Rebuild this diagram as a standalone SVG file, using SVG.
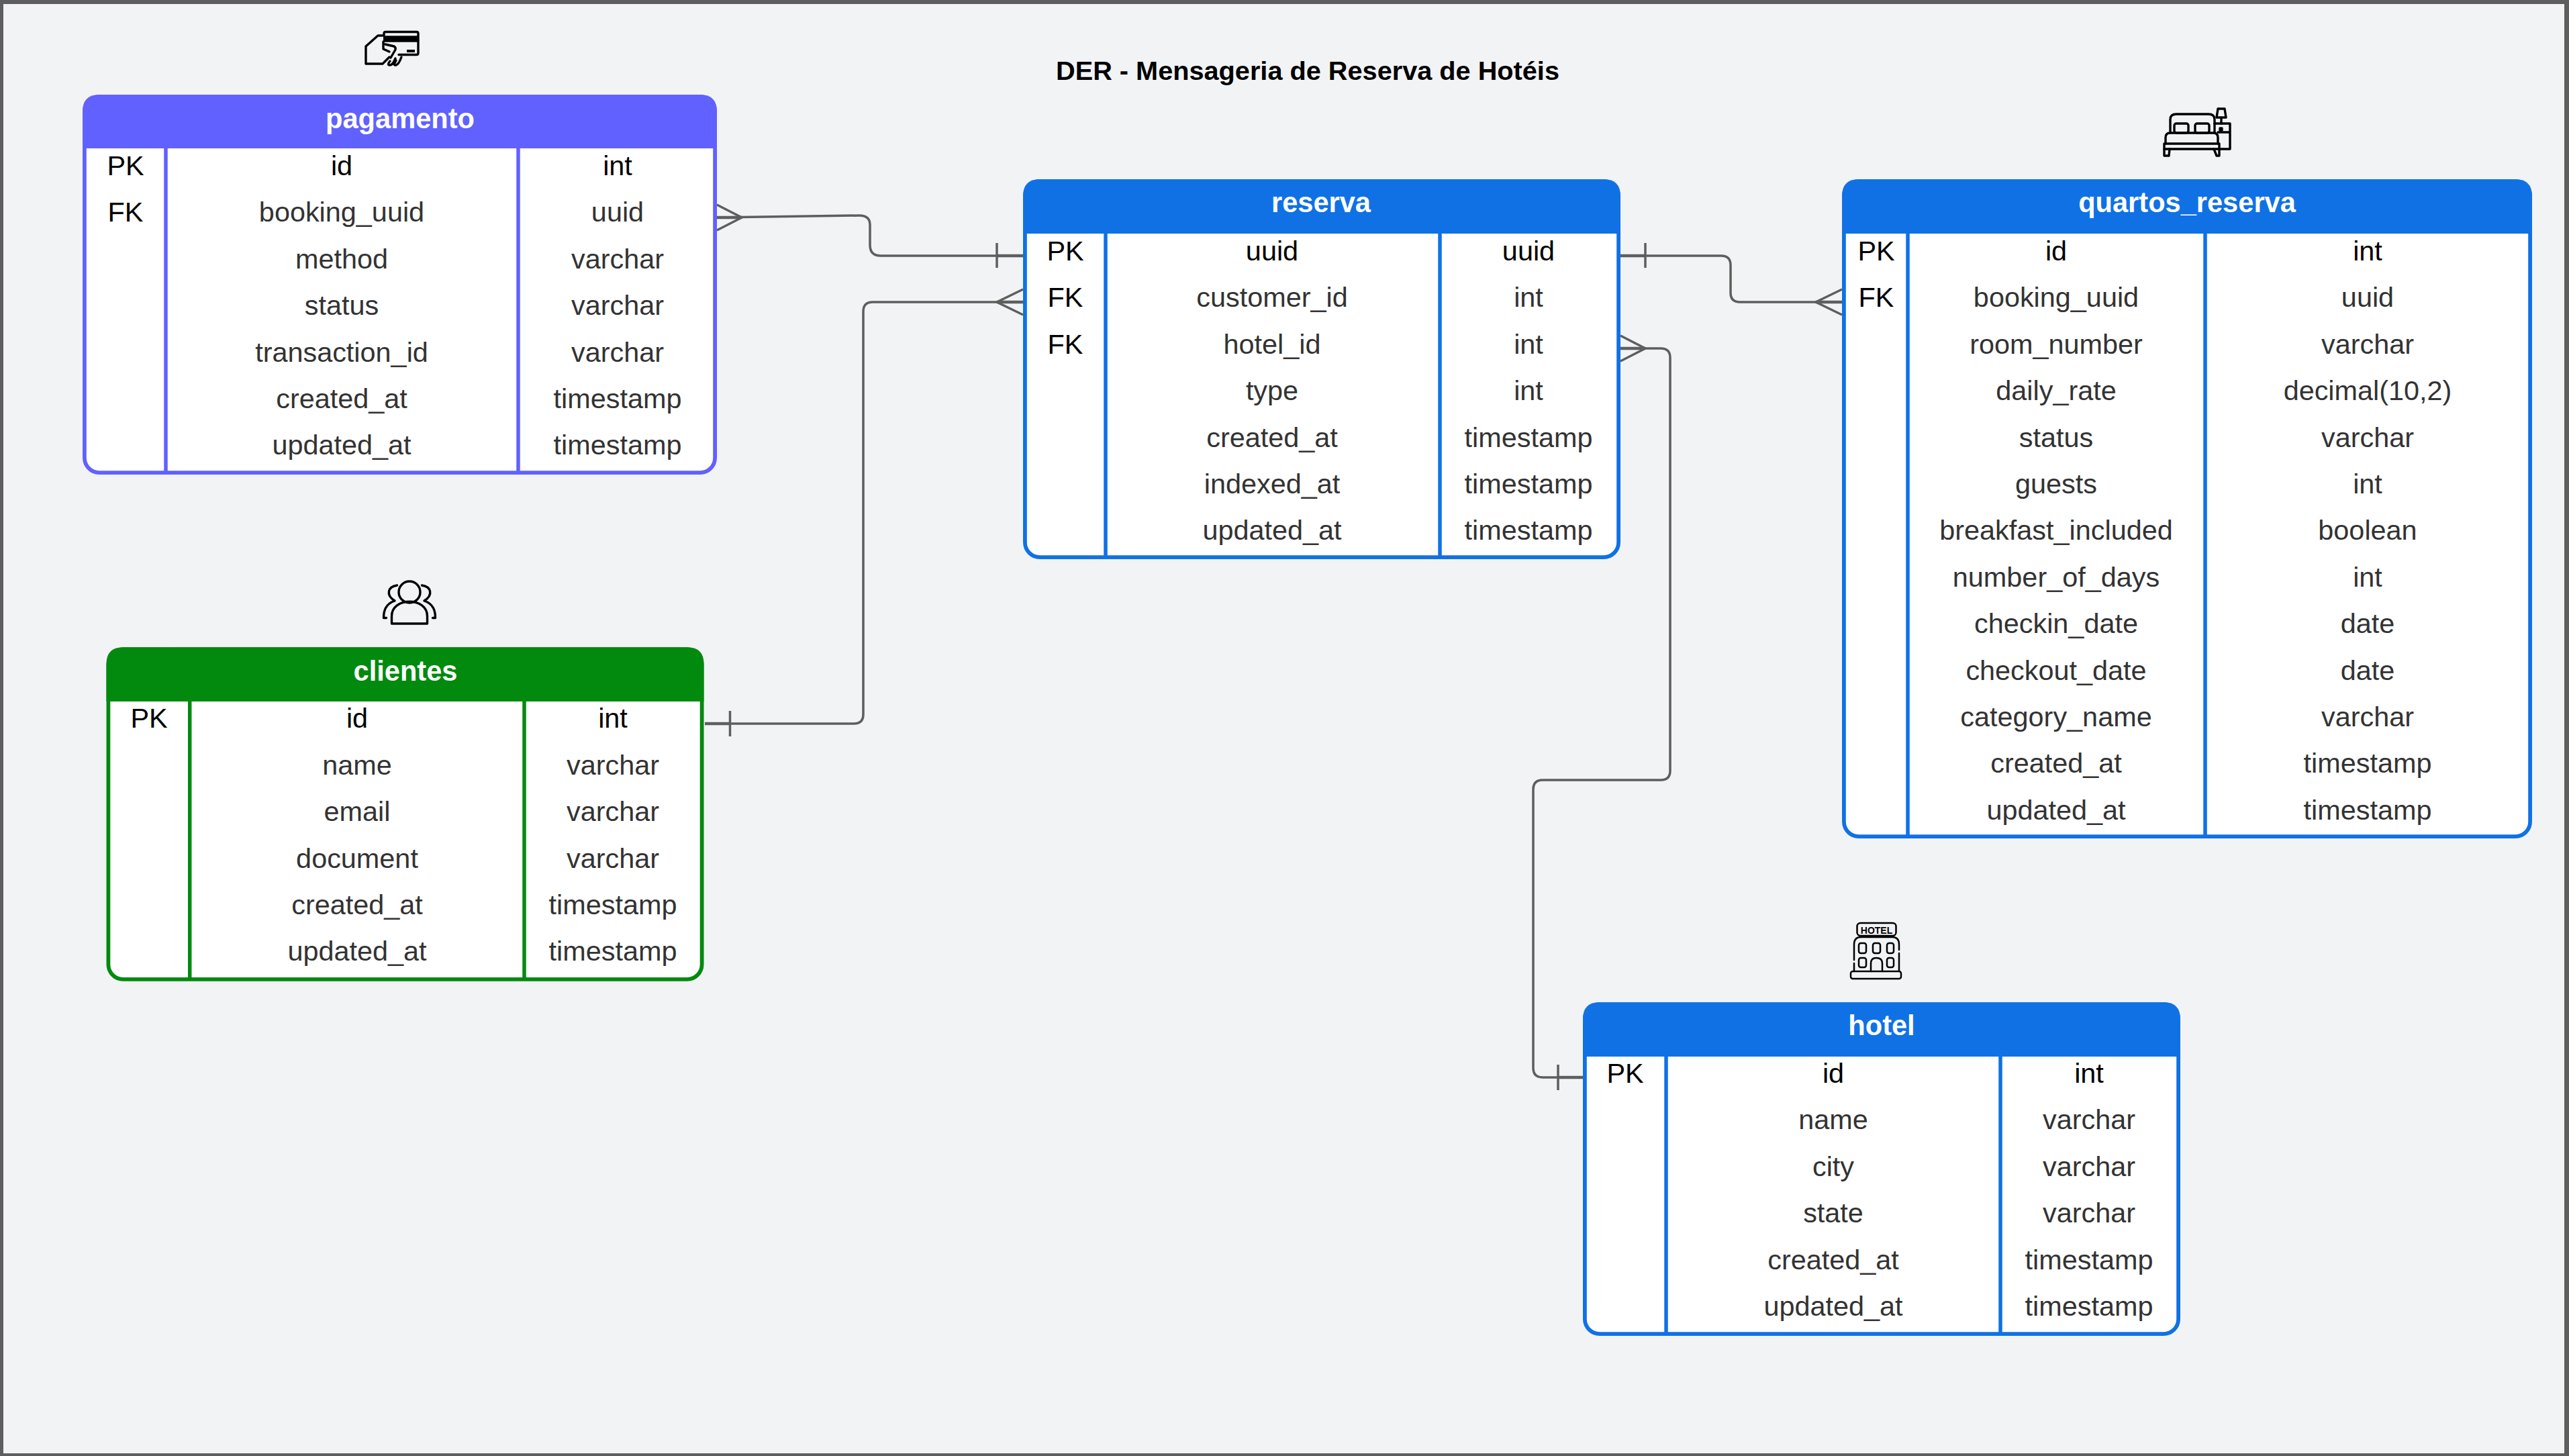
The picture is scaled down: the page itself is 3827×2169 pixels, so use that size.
<svg xmlns="http://www.w3.org/2000/svg" width="3827" height="2169" viewBox="0 0 3827 2169">
<style>
text{font-family:"Liberation Sans",Arial,sans-serif;font-size:41.4px;text-anchor:middle;fill:#333}
.k{fill:#000}
.h{font-weight:700;fill:#fff;font-size:41.6px}
.title{font-weight:700;fill:#000;font-size:39.7px}
.box{stroke-width:5.8}
.div{stroke-width:5.5;fill:none}
.v{fill:#6161ff}
.b{fill:#1071e5}
.g{fill:#028a0f}
.vs{stroke:#6161ff;fill:#fff}
.bs{stroke:#1071e5;fill:#fff}
.gs{stroke:#028a0f;fill:#fff}
.vl{stroke:#6161ff}
.bl{stroke:#1071e5}
.gl{stroke:#028a0f}
.c{fill:none;stroke:#5e5e5e;stroke-width:3.5;stroke-linejoin:round}
.e{fill:none;stroke:#5e5e5e;stroke-width:3.5}
.s{fill:none;stroke:#5e5e5e;stroke-width:4.5}
.i{fill:none;stroke:#000;stroke-width:3.4;stroke-linecap:round;stroke-linejoin:round}
.t{stroke-width:2.5}
.hl{font-size:14px;font-weight:700;fill:#000;stroke:none}
</style>
<rect width="3827" height="2169" fill="#5e5e5e"/>
<rect x="5" y="6" width="3815" height="2159" fill="#f2f3f5"/>
<text class="title" x="1948" y="119">DER - Mensageria de Reserva de Hotéis</text>

<g id="connectors">
<path class="c" d="M1068 324L1280 321Q1296 321 1296 335V365Q1296 381 1312 381H1485"/>
<path class="s" d="M1485 381H1524"/>
<path class="e" d="M1485 362V399"/>
<path class="e" d="M1068 305L1105 324L1068 343"/>
<path class="s" d="M1068 324H1105"/>
<path class="c" d="M1050 1078H1272Q1286 1078 1286 1064V464Q1286 450 1300 450H1485"/>
<path class="s" d="M1050 1078H1087"/>
<path class="e" d="M1087.500 1059V1097"/>
<path class="e" d="M1524 431L1485 450L1524 469"/>
<path class="s" d="M1485 450H1524"/>
<path class="c" d="M2451 381H2564Q2578 381 2578 395V436Q2578 450 2592 450H2705"/>
<path class="s" d="M2414 381H2451"/>
<path class="e" d="M2451 362V399"/>
<path class="e" d="M2744 431L2705 450L2744 469"/>
<path class="s" d="M2705 450H2744"/>
<path class="c" d="M2451 519H2474Q2488 519 2488 533V1148Q2488 1162 2474 1162H2298Q2284 1162 2284 1176V1591Q2284 1605 2298 1605H2321"/>
<path class="e" d="M2414 500L2451 519L2414 538"/>
<path class="s" d="M2414 519H2451"/>
<path class="e" d="M2321 1586V1624"/>
<path class="s" d="M2321 1605H2358"/>
</g>

<g id="pagamento">
<rect class="box vs" x="125.900" y="143.900" width="939.200" height="560.200" rx="22"/>
<path class="v" d="M123 221V166Q123 141 148 141H1043Q1068 141 1068 166V221Z"/>
<path class="div vl" d="M247 221V702M772 221V702"/>
<text class="h" x="596" y="190.500">pagamento</text>
<text class="k" x="187" y="261">PK</text><text class="k" x="509" y="261">id</text><text class="k" x="920" y="261">int</text>
<text class="k" x="187" y="330.400">FK</text><text x="509" y="330.400">booking_uuid</text><text x="920" y="330.400">uuid</text>
<text x="509" y="399.800">method</text><text x="920" y="399.800">varchar</text>
<text x="509" y="469.200">status</text><text x="920" y="469.200">varchar</text>
<text x="509" y="538.600">transaction_id</text><text x="920" y="538.600">varchar</text>
<text x="509" y="608">created_at</text><text x="920" y="608">timestamp</text>
<text x="509" y="677.400">updated_at</text><text x="920" y="677.400">timestamp</text>
</g>

<g id="reserva">
<rect class="box bs" x="1526.900" y="269.900" width="884.200" height="560.200" rx="22"/>
<path class="b" d="M1524 348V292Q1524 267 1549 267H2389Q2414 267 2414 292V348Z"/>
<path class="div bl" d="M1647 348V829M2145 348V829"/>
<text class="h" x="1968" y="316">reserva</text>
<text class="k" x="1587" y="388">PK</text><text class="k" x="1895" y="388">uuid</text><text class="k" x="2277" y="388">uuid</text>
<text class="k" x="1587" y="457.400">FK</text><text x="1895" y="457.400">customer_id</text><text x="2277" y="457.400">int</text>
<text class="k" x="1587" y="526.800">FK</text><text x="1895" y="526.800">hotel_id</text><text x="2277" y="526.800">int</text>
<text x="1895" y="596.200">type</text><text x="2277" y="596.200">int</text>
<text x="1895" y="665.600">created_at</text><text x="2277" y="665.600">timestamp</text>
<text x="1895" y="735">indexed_at</text><text x="2277" y="735">timestamp</text>
<text x="1895" y="804.400">updated_at</text><text x="2277" y="804.400">timestamp</text>
</g>

<g id="quartos_reserva">
<rect class="box bs" x="2746.900" y="269.900" width="1022.200" height="976.200" rx="22"/>
<path class="b" d="M2744 348V292Q2744 267 2769 267H3747Q3772 267 3772 292V348Z"/>
<path class="div bl" d="M2842 348V1245M3285 348V1245"/>
<text class="h" x="3258" y="316">quartos_reserva</text>
<text class="k" x="2795" y="388">PK</text><text class="k" x="3063" y="388">id</text><text class="k" x="3527" y="388">int</text>
<text class="k" x="2795" y="457.400">FK</text><text x="3063" y="457.400">booking_uuid</text><text x="3527" y="457.400">uuid</text>
<text x="3063" y="526.800">room_number</text><text x="3527" y="526.800">varchar</text>
<text x="3063" y="596.200">daily_rate</text><text x="3527" y="596.200">decimal(10,2)</text>
<text x="3063" y="665.600">status</text><text x="3527" y="665.600">varchar</text>
<text x="3063" y="735">guests</text><text x="3527" y="735">int</text>
<text x="3063" y="804.400">breakfast_included</text><text x="3527" y="804.400">boolean</text>
<text x="3063" y="873.800">number_of_days</text><text x="3527" y="873.800">int</text>
<text x="3063" y="943.200">checkin_date</text><text x="3527" y="943.200">date</text>
<text x="3063" y="1012.600">checkout_date</text><text x="3527" y="1012.600">date</text>
<text x="3063" y="1082">category_name</text><text x="3527" y="1082">varchar</text>
<text x="3063" y="1151.400">created_at</text><text x="3527" y="1151.400">timestamp</text>
<text x="3063" y="1220.800">updated_at</text><text x="3527" y="1220.800">timestamp</text>
</g>

<g id="clientes">
<rect class="box gs" x="161.400" y="967.200" width="884.200" height="491.600" rx="22"/>
<path class="g" d="M158.500 1045V989Q158.500 964.300 183 964.300H1024Q1048.500 964.300 1048.500 989V1045Z"/>
<path class="div gl" d="M282.700 1045V1457M781 1045V1457"/>
<text class="h" x="604" y="1014">clientes</text>
<text class="k" x="222" y="1084.300">PK</text><text class="k" x="532" y="1084.300">id</text><text class="k" x="913" y="1084.300">int</text>
<text x="532" y="1153.700">name</text><text x="913" y="1153.700">varchar</text>
<text x="532" y="1223.100">email</text><text x="913" y="1223.100">varchar</text>
<text x="532" y="1292.500">document</text><text x="913" y="1292.500">varchar</text>
<text x="532" y="1361.900">created_at</text><text x="913" y="1361.900">timestamp</text>
<text x="532" y="1431.300">updated_at</text><text x="913" y="1431.300">timestamp</text>
</g>

<g id="hotel">
<rect class="box bs" x="2360.900" y="1495.900" width="884.200" height="491.200" rx="22"/>
<path class="b" d="M2358 1574V1518Q2358 1493 2383 1493H3223Q3248 1493 3248 1518V1574Z"/>
<path class="div bl" d="M2482 1574V1986M2980 1574V1986"/>
<text class="h" x="2803" y="1542">hotel</text>
<text class="k" x="2421" y="1613">PK</text><text class="k" x="2731" y="1613">id</text><text class="k" x="3112" y="1613">int</text>
<text x="2731" y="1682.400">name</text><text x="3112" y="1682.400">varchar</text>
<text x="2731" y="1751.800">city</text><text x="3112" y="1751.800">varchar</text>
<text x="2731" y="1821.200">state</text><text x="3112" y="1821.200">varchar</text>
<text x="2731" y="1890.600">created_at</text><text x="3112" y="1890.600">timestamp</text>
<text x="2731" y="1960">updated_at</text><text x="3112" y="1960">timestamp</text>
</g>

<g id="icon-card" class="i">
<path d="M572 53V50Q572 47.500 574.500 47.500H620.500Q623 47.500 623 50V79Q623 81.500 620.500 81.500H594"/>
<rect x="571" y="53.300" width="53" height="9.400" fill="#000" stroke="none"/>
<rect x="606" y="74" width="12" height="4" fill="#000" stroke="none"/>
<path d="M570 53H563L545 69V95H570L580 85"/>
<path d="M571 62V73L580 77M574 66L587 69Q590 71 589 74L582 86"/>
<path d="M581 91Q576 97 581 97Q585 97 589 87M590 90Q585 98 590 97Q594 96 598 85"/>
</g>
<g id="icon-bed" class="i">
<path d="M3233 198V178Q3233 170 3242 170H3290Q3299 170 3299 178V198"/>
<rect x="3239" y="184" width="21" height="14" rx="3"/>
<rect x="3270" y="184" width="21" height="14" rx="3"/>
<path d="M3226 214V205Q3226 198 3233 198H3297Q3304 198 3304 205V214"/>
<rect x="3224" y="214" width="82" height="8"/>
<path d="M3224 222V232H3231L3232 222M3298 222L3302 232H3306V222"/>
<path d="M3299 184H3322V222H3306M3304 197H3322"/>
<path d="M3309 184V175M3304 162H3314L3316 175H3302Z"/>
<rect x="3307" y="191" width="3" height="3" fill="#000"/>
</g>
<g id="icon-people" class="i">
<circle cx="610" cy="882" r="16"/>
<path d="M583.500 929V918C583.500 889 636.500 889 636.500 918V929Z"/>
<path d="M591.500 872C578 874 574 886 588 895C574 900 571.500 910 571.500 920.500H575.500"/>
<path d="M628.500 872C642 874 646 886 632 895C646 900 648.500 910 648.500 920.500H644.500"/>
</g>
<g id="icon-hotel" class="i t">
<rect x="2766.500" y="1375" width="58" height="19" rx="5"/>
<text class="hl" x="2795.500" y="1390.500">HOTEL</text>
<path d="M2762 1430V1407Q2762 1396 2772 1396H2819Q2829 1396 2829 1407V1415M2829 1420V1447M2762 1435V1447"/>
<rect x="2769" y="1405" width="11" height="15" rx="3"/>
<rect x="2790" y="1405" width="11" height="15" rx="3"/>
<rect x="2811" y="1405" width="10" height="15" rx="3"/>
<rect x="2769" y="1427" width="11" height="14" rx="3"/>
<rect x="2811" y="1427" width="10" height="14" rx="3"/>
<path d="M2787 1447V1435Q2787 1427 2795 1427Q2804 1427 2804 1435V1447"/>
<rect x="2757" y="1447" width="75" height="11" rx="3"/>
</g>
</svg>
